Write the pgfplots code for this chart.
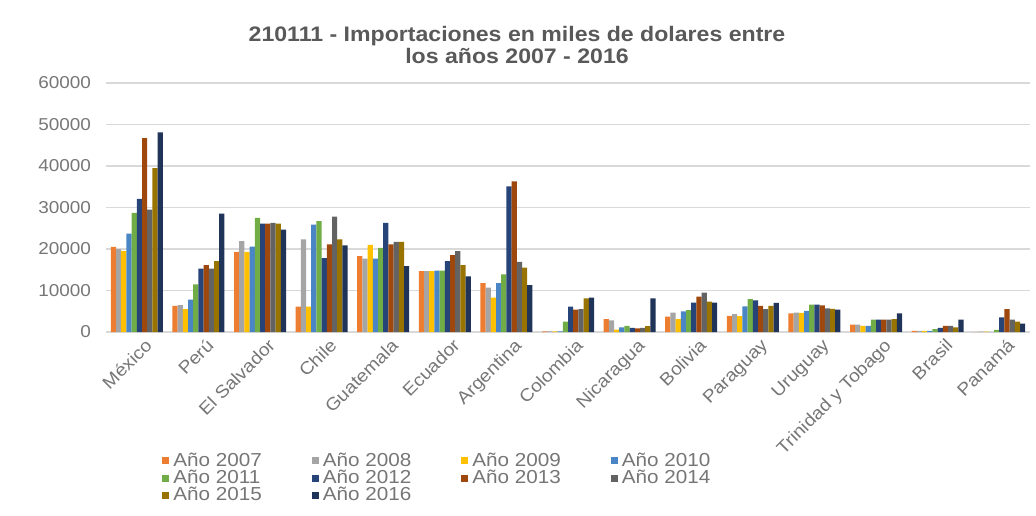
\documentclass[border=0pt]{standalone}
\usepackage{fontspec}
\setmainfont{Liberation Sans}[FakeStretch=1.1]
\usepackage{pgfplots}
\pgfplotsset{compat=1.18}
\usepackage{pgfplotstable}
\definecolor{txt}{HTML}{595959}
\definecolor{tick}{HTML}{767676}
\definecolor{gridc}{HTML}{D9D9D9}
\definecolor{c07}{HTML}{ED7D31}
\definecolor{c08}{HTML}{A5A5A5}
\definecolor{c09}{HTML}{FFC000}
\definecolor{c10}{HTML}{4A86C5}
\definecolor{c11}{HTML}{70AD47}
\definecolor{c12}{HTML}{264478}
\definecolor{c13}{HTML}{9E480E}
\definecolor{c14}{HTML}{636363}
\definecolor{c15}{HTML}{997300}
\definecolor{c16}{HTML}{1F3458}
\pgfplotstableread{
x  a     b     c     d     e     f     g     h     i     j
0  20500 20000 19500 23700 28700 32100 46700 29500 39500 48100
1  6300  6500  5500  7800  11500 15300 16100 15300 17100 28500
2  19300 21900 19300 20600 27500 26100 26100 26300 26100 24700
3  6100  22300 6100  25900 26700 17800 21100 27800 22300 20900
4  18300 17700 21000 17700 20300 26300 21100 21700 21700 15900
5  14700 14700 14700 14800 14800 17100 18500 19500 16100 13400
6  11800 10700 8300  11800 13900 35100 36300 16900 15500 11300
7  150   150   150   150   2500  6100  5400  5500  8100  8300
8  3100  2800  600   1100  1500  1000  900   1000  1400  8100
9  3700  4700  3100  5000  5300  7100  8500  9500  7300  7100
10 3900  4300  3800  6200  7900  7600  6300  5500  6300  7000
11 4500  4700  4600  5100  6600  6600  6400  5700  5600  5400
12 1800  1800  1500  1500  3000  3000  3000  3000  3100  4500
13 300   300   300   300   700   1000  1500  1500  1100  3000
14 0     100   100   0     500   3500  5500  3000  2500  2000
}\datatable
\begin{document}
\begin{tikzpicture}
\path[use as bounding box] (0,0) rectangle (518pt,257.5pt);
\node[align=center, font=\fontsize{10.5}{11}\selectfont\bfseries, text=txt] at (258.5pt,235pt)
  {210111 - Importaciones en miles de dolares entre\\los años 2007 - 2016};
\begin{axis}[
  at={(53pt,91.5pt)}, anchor=south west, scale only axis,
  width=462pt, height=124.5pt,
  ybar=0pt, bar width=2.6pt,
  xmin=-0.5, xmax=14.5, ymin=0, ymax=60000,
  xtick={0,...,14},
  xticklabels={México,Perú,El Salvador,Chile,Guatemala,Ecuador,Argentina,Colombia,Nicaragua,Bolivia,Paraguay,Uruguay,Trinidad y Tobago,Brasil,Panamá},
  ytick={0,10000,...,60000},
  scaled y ticks=false,
  /pgf/number format/1000 sep={},
  /pgf/number format/assume math mode=true,
  axis line style={draw=none},
  major tick length=0pt,
  ymajorgrids, grid style={gridc, line width=0.7pt},
  yticklabel style={font=\fontsize{8.6}{9}\selectfont, text=tick, xshift=-4pt},
  xticklabel style={font=\fontsize{8.8}{9}\selectfont, text=tick, rotate=45, anchor=north east, xshift=4pt, yshift=-1pt},
  every axis plot/.append style={draw=none, legend image code/.code={\fill[##1] (0pt,-1.75pt) rectangle (3.5pt,1.75pt);}},
  legend columns=4,
  legend style={draw=none, fill=none, at={(0.054,-0.465)}, anchor=north west,
    font=\fontsize{9.4}{9.4}\selectfont, text=tick, legend cell align=left,
    nodes={inner ysep=0.2pt},
    /tikz/every even column/.append style={column sep=23pt}},
]
\addplot[fill=c07] table[x=x,y=a] {\datatable};
\addplot[fill=c08] table[x=x,y=b] {\datatable};
\addplot[fill=c09] table[x=x,y=c] {\datatable};
\addplot[fill=c10] table[x=x,y=d] {\datatable};
\addplot[fill=c11] table[x=x,y=e] {\datatable};
\addplot[fill=c12] table[x=x,y=f] {\datatable};
\addplot[fill=c13] table[x=x,y=g] {\datatable};
\addplot[fill=c14] table[x=x,y=h] {\datatable};
\addplot[fill=c15] table[x=x,y=i] {\datatable};
\addplot[fill=c16] table[x=x,y=j] {\datatable};
\legend{Año 2007,Año 2008,Año 2009,Año 2010,Año 2011,Año 2012,Año 2013,Año 2014,Año 2015,Año 2016}
\end{axis}
\end{tikzpicture}
\end{document}
